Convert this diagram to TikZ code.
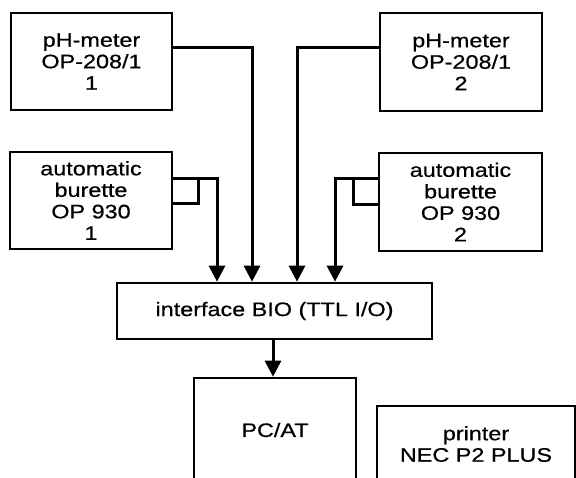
\documentclass[tikz,border=0pt]{standalone}
\usepackage{fontspec}
\setmainfont{Liberation Sans}[FakeStretch=1.2,FakeBold=0.6]
\usetikzlibrary{arrows.meta}
\begin{document}
\begin{tikzpicture}[x=1pt,y=-1pt,
  box/.style={draw,line width=2.6pt,align=center,inner sep=0pt,
    font=\fontsize{19.5}{21.5}\selectfont},
  conn/.style={line width=3pt,-{Triangle[width=16pt,length=16pt]}},
  wire/.style={line width=3pt}]
\useasboundingbox (0,0) rectangle (576,477);
\clip (0,0) rectangle (576,477);
\fill[white] (0,0) rectangle (576,477);
\node[box,minimum width=161pt,minimum height=97pt] (ph1) at (91.5,61.5) {pH-meter\\OP-208/1\\1};
\node[box,minimum width=162pt,minimum height=97pt] (bur1) at (91,200.5) {automatic\\burette\\OP 930\\1};
\node[box,minimum width=162pt,minimum height=98pt] (ph2) at (461,62) {pH-meter\\OP-208/1\\2};
\node[box,minimum width=163pt,minimum height=98pt] (bur2) at (460.5,202) {automatic\\burette\\OP 930\\2};
\node[box,minimum width=315pt,minimum height=56pt] (iface) at (274.5,311) {interface BIO (TTL I/O)};
\node[box,minimum width=162pt,minimum height=104pt] (pc) at (275,430) {PC/AT};
\node[box,minimum width=198pt,minimum height=76pt] (prn) at (476,444) {printer\\NEC P2 PLUS};
% connectors
\draw[conn] (ph1.east |- 0,47) -| (iface.north -| 252,0);
\draw[conn] (bur1.east |- 0,178) -| (iface.north -| 217,0);
\draw[wire] (198,178) |- (bur1.east |- 0,203);
\draw[conn] (ph2.west |- 0,47) -| (iface.north -| 297,0);
\draw[conn] (bur2.west |- 0,178) -| (iface.north -| 335,0);
\draw[wire] (353,178) |- (bur2.west |- 0,204);
\draw[conn] (iface.south -| 273,0) -- (pc.north -| 273,0);
\end{tikzpicture}
\end{document}
